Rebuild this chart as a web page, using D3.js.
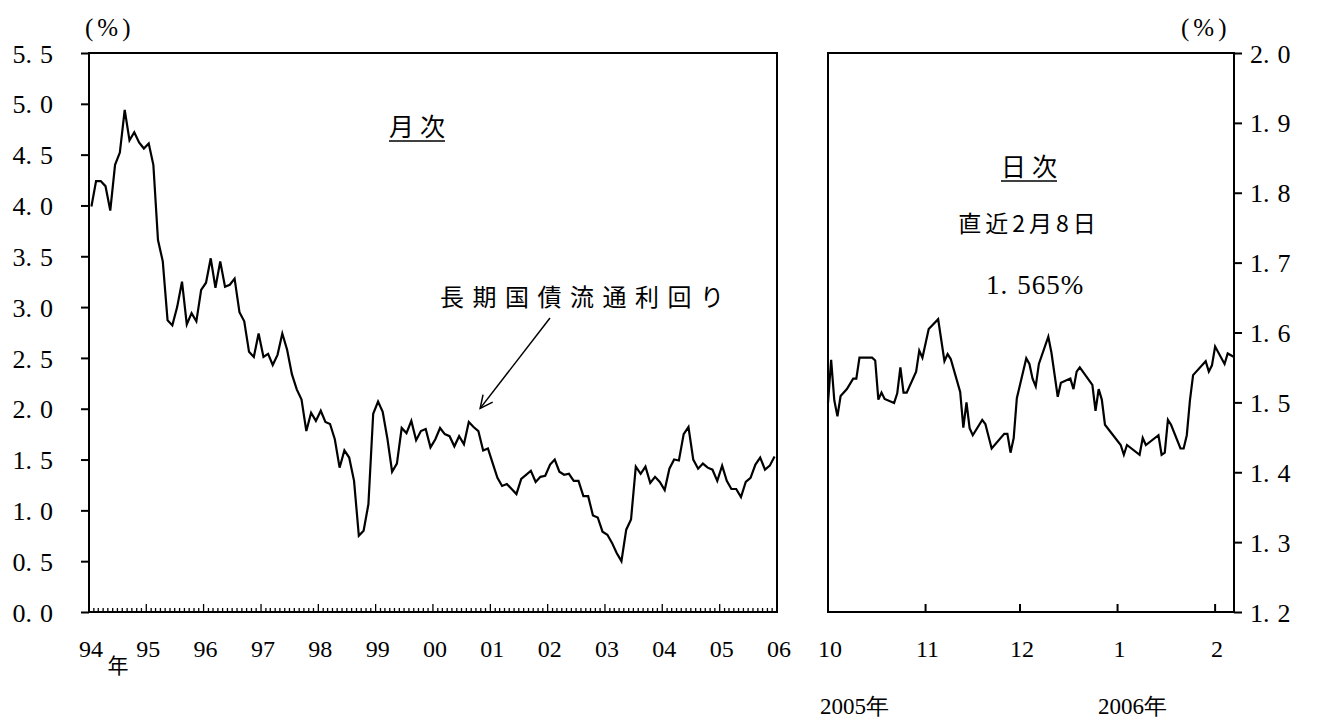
<!DOCTYPE html>
<html><head><meta charset="utf-8">
<script src="https://cdn.jsdelivr.net/npm/d3@7"></script>
<style>
body{margin:0;background:#fff}
svg{display:block}
text{fill:#000}
.num{font-family:"Liberation Serif","DejaVu Serif",serif}
.jp{font-family:"Noto Sans CJK JP","Noto Sans",sans-serif}
</style>
</head><body>
<svg id="c" width="1318" height="720"></svg>
<script>
// ---------- data ----------
const monthlyStart = "1994-01";
const monthlyYield = [
 3.99,4.24,4.24,4.19,3.95,4.40,4.52,4.94,4.64,4.72,4.62,4.56,
 4.61,4.40,3.66,3.45,2.87,2.82,3.00,3.25,2.83,2.94,2.86,3.17,
 3.24,3.48,3.19,3.45,3.20,3.22,3.28,2.95,2.86,2.56,2.51,2.74,
 2.51,2.54,2.43,2.53,2.74,2.58,2.34,2.19,2.09,1.78,1.96,1.88,
 1.98,1.87,1.85,1.70,1.42,1.59,1.52,1.29,0.75,0.80,1.06,1.95,
 2.07,1.97,1.71,1.38,1.46,1.81,1.76,1.88,1.69,1.78,1.80,1.62,
 1.70,1.81,1.75,1.73,1.63,1.73,1.65,1.87,1.82,1.78,1.59,1.61,
 1.46,1.32,1.24,1.26,1.21,1.16,1.31,1.35,1.39,1.28,1.33,1.34,
 1.45,1.50,1.38,1.35,1.36,1.29,1.29,1.14,1.14,0.95,0.93,0.79,
 0.76,0.68,0.58,0.50,0.81,0.91,1.43,1.36,1.43,1.27,1.33,1.28,
 1.20,1.41,1.50,1.49,1.75,1.82,1.50,1.41,1.46,1.42,1.40,1.29,
 1.44,1.29,1.21,1.21,1.13,1.28,1.32,1.45,1.52,1.40,1.44,1.53
];
const yearLabels = ["94","95","96","97","98","99","00","01","02","03","04","05","06"];
const leftYTicks = [0,0.5,1,1.5,2,2.5,3,3.5,4,4.5,5,5.5];

const dailyDates = [
 "2005-10-01","2005-10-02","2005-10-03","2005-10-04","2005-10-05","2005-10-07","2005-10-09","2005-10-10",
 "2005-10-11","2005-10-15","2005-10-16","2005-10-17","2005-10-18","2005-10-19","2005-10-22","2005-10-23",
 "2005-10-24","2005-10-25","2005-10-26","2005-10-29","2005-10-30","2005-10-31","2005-11-02","2005-11-05",
 "2005-11-07","2005-11-08","2005-11-09","2005-11-12","2005-11-13","2005-11-14","2005-11-15","2005-11-16",
 "2005-11-19","2005-11-20","2005-11-22","2005-11-26","2005-11-27","2005-11-28","2005-11-29","2005-11-30",
 "2005-12-03","2005-12-04","2005-12-05","2005-12-06","2005-12-07","2005-12-10","2005-12-11","2005-12-13",
 "2005-12-14","2005-12-17","2005-12-18","2005-12-19","2005-12-20","2005-12-24","2005-12-25","2005-12-26",
 "2005-12-27","2005-12-28","2006-01-02","2006-01-03","2006-01-04","2006-01-08","2006-01-09","2006-01-10",
 "2006-01-14","2006-01-15","2006-01-16","2006-01-17","2006-01-18","2006-01-21","2006-01-22","2006-01-23",
 "2006-01-24","2006-01-25","2006-01-29","2006-01-30","2006-01-31","2006-02-01","2006-02-04","2006-02-05",
 "2006-02-07"
];
const dailyYield = [
 1.499,1.561,1.503,1.480,1.509,1.519,1.534,1.534,
 1.564,1.564,1.560,1.504,1.514,1.505,1.499,1.513,
 1.550,1.514,1.514,1.544,1.574,1.564,1.605,1.619,
 1.559,1.569,1.562,1.515,1.464,1.500,1.463,1.453,
 1.475,1.469,1.434,1.455,1.455,1.428,1.449,1.506,
 1.563,1.555,1.534,1.523,1.555,1.594,1.571,1.508,
 1.528,1.534,1.519,1.544,1.550,1.525,1.488,1.519,
 1.504,1.468,1.439,1.425,1.439,1.425,1.449,1.439,
 1.453,1.425,1.428,1.475,1.468,1.434,1.434,1.453,
 1.503,1.539,1.559,1.544,1.553,1.580,1.555,1.570,
 1.565
];
const rightYTicks = [1.2,1.3,1.4,1.5,1.6,1.7,1.8,1.9,2.0];
const dailyTickDates = ["2005-10-01","2005-11-01","2005-12-01","2006-01-01","2006-02-01"];
const dailyTickLabels = ["10","11","12","1","2"];
const dailyYearLabels = ["2005年","2006年"];

// ---------- layout ----------
const svg = d3.select("#c");
const parseDay = d3.timeParse("%Y-%m-%d");
const parseMonth = d3.timeParse("%Y-%m");
const yTop = 53, yBot = 612;
const L = {x0: 89, x1: 777};
const R = {x0: 828, x1: 1234};

const xL = d3.scaleTime().domain([new Date(1994,0,1), new Date(2006,0,1)]).range([L.x0, L.x1]);
const yL = d3.scaleLinear().domain([0,5.5]).range([yBot, yTop]);
const xR = d3.scaleTime().domain([new Date(2005,9,1), new Date(2006,1,7)]).range([R.x0, R.x1]);
const yR = d3.scaleLinear().domain([1.2,2.0]).range([yBot, yTop]);

function numText(sel, str){
  sel.text(null);
  const parts = str.split(".");
  if(parts.length===1){ sel.append("tspan").text(str); return; }
  sel.append("tspan").text(parts[0]);
  sel.append("tspan").attr("style","letter-spacing:8px").text(".");
  sel.append("tspan").text(parts[1]);
}

// ---------- left panel ----------
const gL = svg.append("g");
const axL = d3.axisLeft(yL).tickValues(leftYTicks).tickSize(8).tickFormat(d=>d.toFixed(1));
const gAxL = gL.append("g").attr("transform",`translate(${L.x0},0)`).call(axL);
gAxL.select(".domain").remove();
gAxL.selectAll(".tick line").attr("stroke","#000").attr("stroke-width",2);
gAxL.selectAll(".tick text").attr("class","num").attr("font-size",26).attr("x",-36).attr("dy","0.35em")
  .each(function(d){ numText(d3.select(this), d.toFixed(1)); });

const months = d3.timeMonth.range(new Date(1994,0,1), new Date(2006,0,2));
gL.append("g").selectAll("line").data(months).join("line")
  .attr("x1",d=>xL(d)).attr("x2",d=>xL(d))
  .attr("y1",yBot).attr("y2",d=>yBot-(d.getMonth()===0?8:4))
  .attr("stroke","#000").attr("stroke-width",1.3);

const years = d3.timeYear.range(new Date(1994,0,1), new Date(2006,0,2));
gL.append("g").selectAll("text").data(years).join("text")
  .attr("class","num").attr("font-size",24).attr("text-anchor","middle")
  .attr("x",d=>xL(d)+2).attr("y",657).text((d,i)=>yearLabels[i]);
gL.append("text").attr("class","jp").attr("font-size",21).attr("x",118).attr("y",673)
  .attr("text-anchor","middle").text("年");
gL.append("text").attr("class","num").attr("font-size",25).attr("x",85).attr("y",36)
  .attr("letter-spacing",4).text("(%)");

gL.append("rect").attr("x",L.x0).attr("y",yTop).attr("width",L.x1-L.x0).attr("height",yBot-yTop)
  .attr("fill","none").attr("stroke","#000").attr("stroke-width",2);

const m0 = parseMonth(monthlyStart);
const mData = monthlyYield.map((v,i)=>{
  const a = d3.timeMonth.offset(m0,i), b = d3.timeMonth.offset(m0,i+1);
  return {x:(xL(a)+xL(b))/2, v};
});
gL.append("path").datum(mData)
  .attr("d", d3.line().x(d=>d.x).y(d=>yL(d.v)))
  .attr("fill","none").attr("stroke","#000").attr("stroke-width",2.2).attr("stroke-linejoin","miter");

const t1 = gL.append("text").attr("class","jp").attr("font-size",25).attr("text-anchor","middle")
  .attr("x",420).attr("y",136).attr("letter-spacing",6).text("月次");
const b1 = t1.node().getBBox();
gL.append("line").attr("x1",b1.x).attr("x2",b1.x+b1.width-6).attr("y1",141).attr("y2",141)
  .attr("stroke","#000").attr("stroke-width",1.5);

gL.append("text").attr("class","jp").attr("font-size",24).attr("x",440).attr("y",306)
  .attr("letter-spacing",8.5).text("長期国債流通利回り");
const tip = {x: mData[82].x - 3, y: yL(mData[82].v) - 42};
const tail = {x: 550, y: 318};
gL.append("line").attr("x1",tail.x).attr("y1",tail.y).attr("x2",tip.x).attr("y2",tip.y)
  .attr("stroke","#000").attr("stroke-width",1.5);
{
  const ang = Math.atan2(tail.y-tip.y, tail.x-tip.x);
  const len = 14, spread = 0.45;
  const p = d3.path();
  p.moveTo(tip.x+len*Math.cos(ang-spread), tip.y+len*Math.sin(ang-spread));
  p.lineTo(tip.x, tip.y);
  p.lineTo(tip.x+len*Math.cos(ang+spread), tip.y+len*Math.sin(ang+spread));
  gL.append("path").attr("d",p.toString()).attr("fill","none").attr("stroke","#000").attr("stroke-width",1.5);
}

// ---------- right panel ----------
const gR = svg.append("g");
const axR = d3.axisRight(yR).tickValues(rightYTicks).tickSize(8).tickFormat(d=>d.toFixed(1));
const gAxR = gR.append("g").attr("transform",`translate(${R.x1},0)`).call(axR);
gAxR.select(".domain").remove();
gAxR.selectAll(".tick line").attr("stroke","#000").attr("stroke-width",2);
gAxR.selectAll(".tick text").attr("class","num").attr("font-size",26).attr("x",16).attr("dy","0.35em")
  .each(function(d){ numText(d3.select(this), d.toFixed(1)); });

const tickDates = dailyTickDates.map(parseDay);
gR.append("g").selectAll("line").data(tickDates).join("line")
  .attr("x1",d=>xR(d)).attr("x2",d=>xR(d)).attr("y1",yBot).attr("y2",yBot-8)
  .attr("stroke","#000").attr("stroke-width",2);
gR.append("g").selectAll("text").data(tickDates).join("text")
  .attr("class","num").attr("font-size",24).attr("text-anchor","middle")
  .attr("x",d=>xR(d)+2).attr("y",657).text((d,i)=>dailyTickLabels[i]);
gR.append("text").attr("class","num").attr("font-size",23).attr("x",820).attr("y",714).text(dailyYearLabels[0]);
gR.append("text").attr("class","num").attr("font-size",23).attr("x",1098).attr("y",714).text(dailyYearLabels[1]);
gR.append("text").attr("class","num").attr("font-size",25).attr("x",1181).attr("y",36)
  .attr("letter-spacing",4).text("(%)");

gR.append("rect").attr("x",R.x0).attr("y",yTop).attr("width",R.x1-R.x0).attr("height",yBot-yTop)
  .attr("fill","none").attr("stroke","#000").attr("stroke-width",2);

const dData = dailyDates.map((d,i)=>({d:parseDay(d), v:dailyYield[i]}));
gR.append("path").datum(dData)
  .attr("d", d3.line().x(d=>xR(d.d)).y(d=>yR(d.v)))
  .attr("fill","none").attr("stroke","#000").attr("stroke-width",2.2);

const t2 = gR.append("text").attr("class","jp").attr("font-size",25).attr("text-anchor","middle")
  .attr("x",1032).attr("y",176).attr("letter-spacing",6).text("日次");
const b2 = t2.node().getBBox();
gR.append("line").attr("x1",b2.x).attr("x2",b2.x+b2.width-6).attr("y1",181).attr("y2",181)
  .attr("stroke","#000").attr("stroke-width",1.5);
gR.append("text").attr("class","jp").attr("font-size",23).attr("text-anchor","middle")
  .attr("x",1029).attr("y",232).attr("letter-spacing",4).text("直近2月8日");
const last = dData[dData.length-1];
const t3 = gR.append("text").attr("class","num").attr("font-size",27).attr("text-anchor","middle")
  .attr("x",1035).attr("y",294).attr("letter-spacing",1);
t3.append("tspan").text("1");
t3.append("tspan").attr("style","letter-spacing:10px").text(".");
t3.append("tspan").text(d3.format(".3f")(last.v).split(".")[1] + "%");
</script>
</body></html>
